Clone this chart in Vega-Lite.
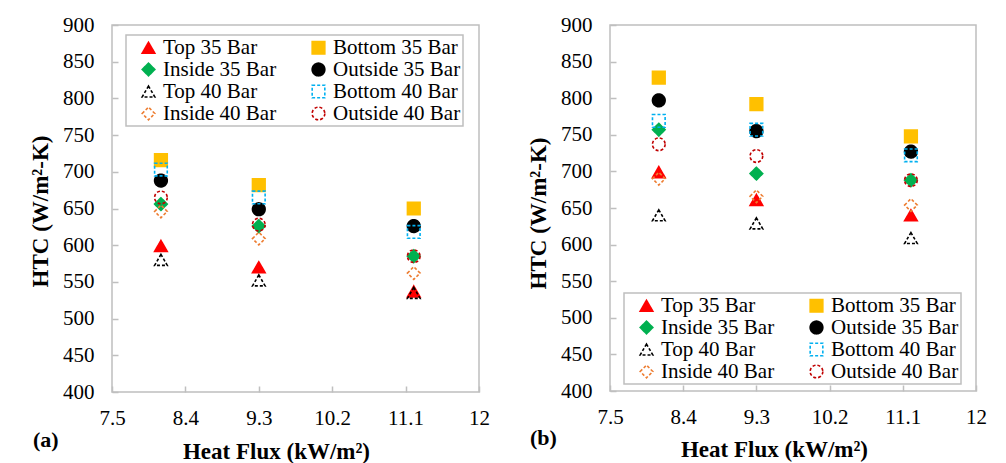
{
  "$schema": "https://vega.github.io/schema/vega-lite/v6.json",
  "padding": {"left": 28, "top": 13, "right": 5, "bottom": 0},
  "background": "white",
  "spacing": 35,
  "datasets": {
    "a": [
      {"flux": 8.1, "htc": 599, "series": "Top 35 Bar"},
      {"flux": 9.3, "htc": 570, "series": "Top 35 Bar"},
      {"flux": 11.2, "htc": 537, "series": "Top 35 Bar"},
      {"flux": 8.1, "htc": 716, "series": "Bottom 35 Bar"},
      {"flux": 9.3, "htc": 682, "series": "Bottom 35 Bar"},
      {"flux": 11.2, "htc": 650, "series": "Bottom 35 Bar"},
      {"flux": 8.1, "htc": 656, "series": "Inside 35 Bar"},
      {"flux": 9.3, "htc": 626, "series": "Inside 35 Bar"},
      {"flux": 11.2, "htc": 585, "series": "Inside 35 Bar"},
      {"flux": 8.1, "htc": 688, "series": "Outside 35 Bar"},
      {"flux": 9.3, "htc": 649, "series": "Outside 35 Bar"},
      {"flux": 11.2, "htc": 626, "series": "Outside 35 Bar"},
      {"flux": 8.1, "htc": 580, "series": "Top 40 Bar"},
      {"flux": 9.3, "htc": 552, "series": "Top 40 Bar"},
      {"flux": 11.2, "htc": 535, "series": "Top 40 Bar"},
      {"flux": 8.1, "htc": 703, "series": "Bottom 40 Bar"},
      {"flux": 9.3, "htc": 665, "series": "Bottom 40 Bar"},
      {"flux": 11.2, "htc": 618, "series": "Bottom 40 Bar"},
      {"flux": 8.1, "htc": 646, "series": "Inside 40 Bar"},
      {"flux": 9.3, "htc": 609, "series": "Inside 40 Bar"},
      {"flux": 11.2, "htc": 562, "series": "Inside 40 Bar"},
      {"flux": 8.1, "htc": 665, "series": "Outside 40 Bar"},
      {"flux": 9.3, "htc": 628, "series": "Outside 40 Bar"},
      {"flux": 11.2, "htc": 585, "series": "Outside 40 Bar"}
    ],
    "b": [
      {"flux": 8.1, "htc": 699, "series": "Top 35 Bar"},
      {"flux": 9.3, "htc": 661, "series": "Top 35 Bar"},
      {"flux": 11.2, "htc": 640, "series": "Top 35 Bar"},
      {"flux": 8.1, "htc": 828, "series": "Bottom 35 Bar"},
      {"flux": 9.3, "htc": 792, "series": "Bottom 35 Bar"},
      {"flux": 11.2, "htc": 748, "series": "Bottom 35 Bar"},
      {"flux": 8.1, "htc": 757, "series": "Inside 35 Bar"},
      {"flux": 9.3, "htc": 697, "series": "Inside 35 Bar"},
      {"flux": 11.2, "htc": 688, "series": "Inside 35 Bar"},
      {"flux": 8.1, "htc": 797, "series": "Outside 35 Bar"},
      {"flux": 9.3, "htc": 755, "series": "Outside 35 Bar"},
      {"flux": 11.2, "htc": 727, "series": "Outside 35 Bar"},
      {"flux": 8.1, "htc": 640, "series": "Top 40 Bar"},
      {"flux": 9.3, "htc": 629, "series": "Top 40 Bar"},
      {"flux": 11.2, "htc": 609, "series": "Top 40 Bar"},
      {"flux": 8.1, "htc": 769, "series": "Bottom 40 Bar"},
      {"flux": 9.3, "htc": 757, "series": "Bottom 40 Bar"},
      {"flux": 11.2, "htc": 722, "series": "Bottom 40 Bar"},
      {"flux": 8.1, "htc": 690, "series": "Inside 40 Bar"},
      {"flux": 9.3, "htc": 666, "series": "Inside 40 Bar"},
      {"flux": 11.2, "htc": 654, "series": "Inside 40 Bar"},
      {"flux": 8.1, "htc": 737, "series": "Outside 40 Bar"},
      {"flux": 9.3, "htc": 721, "series": "Outside 40 Bar"},
      {"flux": 11.2, "htc": 688, "series": "Outside 40 Bar"}
    ]
  },
  "config": {
    "font": "Liberation Serif",
    "view": {"stroke": "#BFBFBF", "strokeWidth": 1.5},
    "axis": {
      "grid": false, "domain": false,
      "tickColor": "#BFBFBF", "tickWidth": 1.5, "tickSize": -6,
      "labelFont": "Liberation Serif", "labelFontSize": 21, "labelColor": "black",
      "titleFont": "Liberation Serif", "titleFontSize": 23, "titleFontWeight": "bold", "titleColor": "black"
    },
    "axisX": {"labelPadding": 21, "labelFlush": false, "format": ".1~f", "titleX": 164, "titleY": 66, "titleBaseline": "alphabetic", "titleAlign": "center"},
    "axisY": {"labelPadding": 24, "titleX": -64.5, "titleBaseline": "alphabetic", "titleAngle": -90, "titleAlign": "center"},
    "legend": {
      "orient": "none", "columns": 2, "symbolSize": 160, "symbolStrokeWidth": 1.6,
      "labelFont": "Liberation Serif", "labelFontSize": 21, "labelColor": "black", "labelLimit": 300,
      "labelOffset": 4, "rowPadding": 0, "columnPadding": 21, "padding": 2, "symbolOffset": 10,
      "strokeColor": "#BFBFBF", "strokeWidth": 1.5
    },
    "title": {"font": "Liberation Serif", "fontSize": 22, "fontWeight": "bold", "color": "black"}
  },
  "hconcat": [
    {
      "width": 367, "height": 367,
      "data": {"name": "a"},
      "title": {"text": "(a)", "orient": "bottom", "anchor": "start", "frame": "group", "dx": -79, "dy": -33, "offset": 0},
      "mark": {"type": "point", "filled": false, "size": 160, "strokeWidth": 1.6, "opacity": 1},
      "encoding": {
        "x": {"field": "flux", "type": "quantitative", "scale": {"domain": [7.5, 12], "nice": false, "zero": false},
              "axis": {"values": [7.5, 8.4, 9.3, 10.2, 11.1, 12], "title": "Heat Flux (kW/m²)"}},
        "y": {"field": "htc", "type": "quantitative", "scale": {"domain": [400, 900], "nice": false, "zero": false},
              "axis": {"values": [400, 450, 500, 550, 600, 650, 700, 750, 800, 850, 900], "title": "HTC (W/m²-K)", "titleY": 186}},
        "color": {"field": "series", "type": "nominal",
          "scale": {"domain": ["Top 35 Bar", "Inside 35 Bar", "Top 40 Bar", "Inside 40 Bar", "Bottom 35 Bar", "Outside 35 Bar", "Bottom 40 Bar", "Outside 40 Bar"],
                    "range": ["#FF0000", "#00B050", "#000000", "#ED7D31", "#FFC000", "#000000", "#00B0F0", "#C00000"]},
          "legend": {"title": null, "legendX": 14, "legendY": 10}},
        "fill": {"field": "series", "type": "nominal",
          "scale": {"domain": ["Top 35 Bar", "Inside 35 Bar", "Top 40 Bar", "Inside 40 Bar", "Bottom 35 Bar", "Outside 35 Bar", "Bottom 40 Bar", "Outside 40 Bar"],
                    "range": ["#FF0000", "#00B050", "transparent", "transparent", "#FFC000", "#000000", "transparent", "transparent"]},
          "legend": {"title": null, "legendX": 14, "legendY": 10}},
        "shape": {"field": "series", "type": "nominal",
          "scale": {"domain": ["Top 35 Bar", "Inside 35 Bar", "Top 40 Bar", "Inside 40 Bar", "Bottom 35 Bar", "Outside 35 Bar", "Bottom 40 Bar", "Outside 40 Bar"],
                    "range": ["triangle-up", "diamond", "triangle-up", "diamond", "square", "circle", "square", "circle"]},
          "legend": {"title": null, "legendX": 14, "legendY": 10}},
        "strokeDash": {"field": "series", "type": "nominal",
          "scale": {"domain": ["Top 35 Bar", "Inside 35 Bar", "Top 40 Bar", "Inside 40 Bar", "Bottom 35 Bar", "Outside 35 Bar", "Bottom 40 Bar", "Outside 40 Bar"],
                    "range": [[1, 0], [1, 0], [3, 2], [3, 2], [1, 0], [1, 0], [3, 2], [3, 2]]},
          "legend": {"title": null, "legendX": 14, "legendY": 10}}
      }
    },
    {
      "width": 366, "height": 366,
      "data": {"name": "b"},
      "title": {"text": "(b)", "orient": "bottom", "anchor": "start", "frame": "group", "dx": -80, "dy": -33, "offset": 0},
      "mark": {"type": "point", "filled": false, "size": 160, "strokeWidth": 1.6, "opacity": 1},
      "encoding": {
        "x": {"field": "flux", "type": "quantitative", "scale": {"domain": [7.5, 12], "nice": false, "zero": false},
              "axis": {"values": [7.5, 8.4, 9.3, 10.2, 11.1, 12], "title": "Heat Flux (kW/m²)", "titleY": 65}},
        "y": {"field": "htc", "type": "quantitative", "scale": {"domain": [400, 900], "nice": false, "zero": false},
              "axis": {"values": [400, 450, 500, 550, 600, 650, 700, 750, 800, 850, 900], "title": "HTC (W/m²-K)", "titleY": 188}},
        "color": {"field": "series", "type": "nominal",
          "scale": {"domain": ["Top 35 Bar", "Inside 35 Bar", "Top 40 Bar", "Inside 40 Bar", "Bottom 35 Bar", "Outside 35 Bar", "Bottom 40 Bar", "Outside 40 Bar"],
                    "range": ["#FF0000", "#00B050", "#000000", "#ED7D31", "#FFC000", "#000000", "#00B0F0", "#C00000"]},
          "legend": {"title": null, "legendX": 14, "legendY": 268}},
        "fill": {"field": "series", "type": "nominal",
          "scale": {"domain": ["Top 35 Bar", "Inside 35 Bar", "Top 40 Bar", "Inside 40 Bar", "Bottom 35 Bar", "Outside 35 Bar", "Bottom 40 Bar", "Outside 40 Bar"],
                    "range": ["#FF0000", "#00B050", "transparent", "transparent", "#FFC000", "#000000", "transparent", "transparent"]},
          "legend": {"title": null, "legendX": 14, "legendY": 268}},
        "shape": {"field": "series", "type": "nominal",
          "scale": {"domain": ["Top 35 Bar", "Inside 35 Bar", "Top 40 Bar", "Inside 40 Bar", "Bottom 35 Bar", "Outside 35 Bar", "Bottom 40 Bar", "Outside 40 Bar"],
                    "range": ["triangle-up", "diamond", "triangle-up", "diamond", "square", "circle", "square", "circle"]},
          "legend": {"title": null, "legendX": 14, "legendY": 268}},
        "strokeDash": {"field": "series", "type": "nominal",
          "scale": {"domain": ["Top 35 Bar", "Inside 35 Bar", "Top 40 Bar", "Inside 40 Bar", "Bottom 35 Bar", "Outside 35 Bar", "Bottom 40 Bar", "Outside 40 Bar"],
                    "range": [[1, 0], [1, 0], [3, 2], [3, 2], [1, 0], [1, 0], [3, 2], [3, 2]]},
          "legend": {"title": null, "legendX": 14, "legendY": 268}}
      }
    }
  ],
  "resolve": {"legend": {"color": "independent", "fill": "independent", "shape": "independent", "strokeDash": "independent"}, "scale": {"color": "independent", "fill": "independent", "shape": "independent", "strokeDash": "independent"}}
}
